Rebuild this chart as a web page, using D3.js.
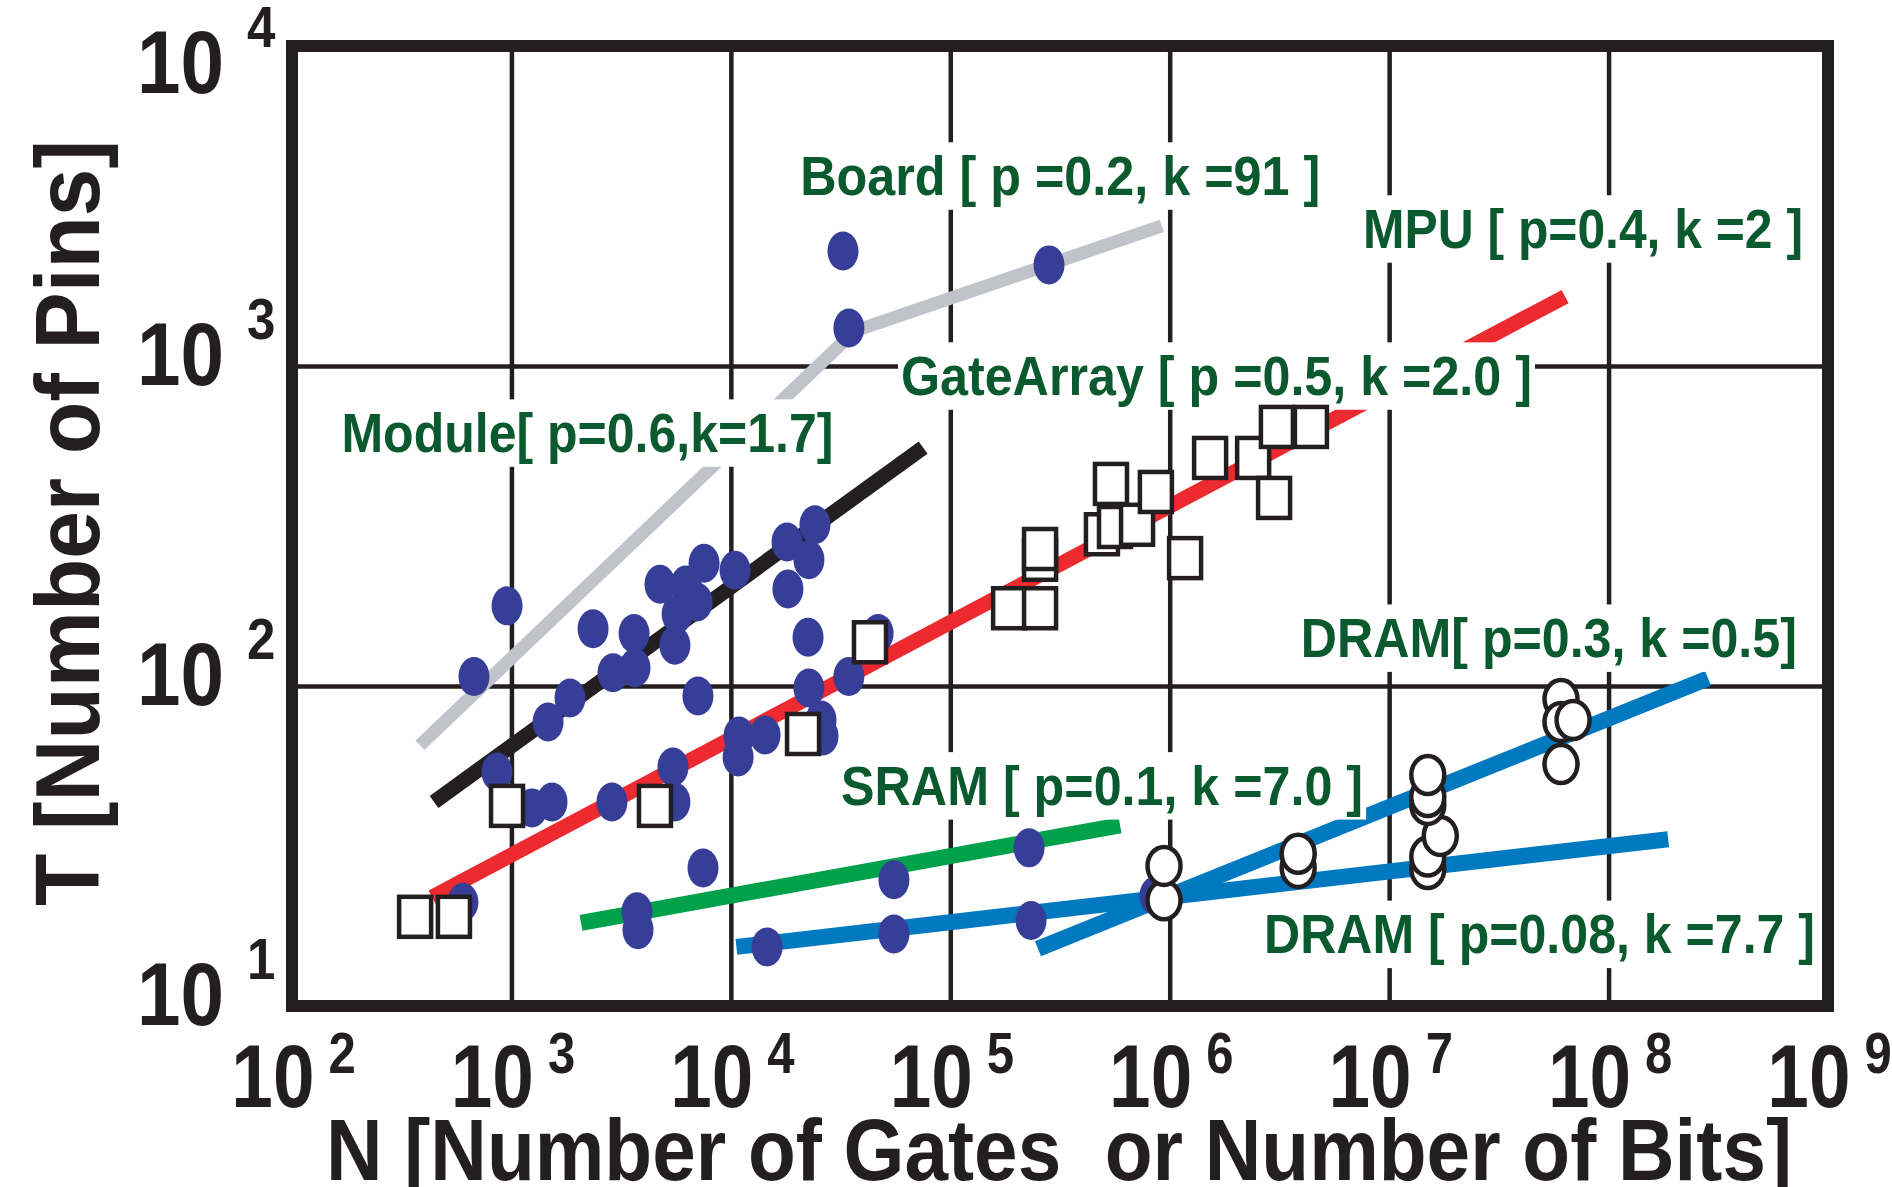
<!DOCTYPE html>
<html>
<head>
<meta charset="utf-8">
<script src="https://cdn.jsdelivr.net/npm/d3@7"></script>
<style>
body { margin: 0; background: #fff; }
svg { display: block; }
text { font-family: "Liberation Sans", Arial, sans-serif; font-weight: bold; }
</style>
</head>
<body>
<div id="viz"></div>
<script>
// Rent's rule plot: T (pins) against N (gates or bits), log-log.
// Values below.
var xExponents = [2, 3, 4, 5, 6, 7, 8, 9];
var yExponents = [1, 2, 3, 4];

// filled blue dots [N, T]
var blueDots = [
    [955,178],[675,107],[2355,151],[3622,146],[2904,110],[3656,114],[1849,91.7],[1469,77.2],
    [859,53.9],[1242,41.6],[1531,43.4],[2872,43.4],[5448,55.8],[5559,43.4],[4753,208],[7550,242],
    [10450,230],[6250,207],[7015,183],[5690,168],[5559,134],[7080,93.1],[18030,282],[24170,319],
    [22690,248],[18200,201],[22480,142],[22690,98.6],[34510,107],[46900,146],[10890,69.8],[14320,70.3],
    [10790,60.0],[25760,78.3],[26300,69.8],[7465,27.0],[601,21.1],[3733,19.7],[3774,17.3],[14620,15.3],
    [55350,24.8],[55350,16.8],[228600,31.2],[233400,18.5],[857000,22.1],[32430,2286],[34510,1314],[281800,2070]
];
// open squares (gate arrays / MPU)
var gateSquares = [
    [364,19.0],[547,19.0],[955,42.2],[4510,42.2],[21330,70.8],[43060,137],[185400,175],[256500,175],
    [256500,248],[256500,268],[491100,298],[563200,314],[709800,319],[539900,428],[865000,404],
    [1175000,251],[1528000,516],[2400000,516],[2990000,387],[3080000,645],[4400000,645]
];
// open circles (DRAM)
var dramCircles = [
    [942000,21.4],[942000,27.4],[3850000,27.0],[3850000,29.9],[1.50e7,26.8],[1.50e7,29.3],[1.71e7,34.0],
    [1.50e7,42.5],[1.50e7,45.0],[1.50e7,52.7],[6.07e7,91.0],[6.07e7,77.2],[6.89e7,78.3],[6.07e7,57.0]
];

// fitted lines [N, T]
var boardFit  = [[383,65.3],[36800,1288],[9.2e5,2740]];
var moduleFit = [[444,43.4],[75200,556]];
var mpuFit    = [[435,21.9],[6.34e7,1648]];
var sramFit   = [[2075,18.2],[5.94e5,36.7]];
var dramFitA  = [[1.06e4,15.3],[1.87e8,33.2]];
var dramFitB  = [[2.51e5,15.1],[2.84e8,105.7]];

var labelTexts = [
    "Board [ p =0.2, k =91 ]",
    "MPU [ p=0.4, k =2 ]",
    "GateArray [ p =0.5, k =2.0 ]",
    "Module[ p=0.6,k=1.7]",
    "SRAM [ p=0.1, k =7.0 ]",
    "DRAM[ p=0.3, k =0.5]",
    "DRAM [ p=0.08, k =7.7 ]"
];
// left end of each label's baseline, in data units
var labelAnchors = [[2.07e4,3420],[7.6e6,2337],[5.96e4,811],[168,538],[3.18e4,42.5],[3.96e6,123],[2.69e6,14.6]];
var labelWidths = [520, 440, 631, 492, 522, 496, 551];

var W = 1892, H = 1187;
var ink = "#231f20";

var x = d3.scaleLog().domain([1e2, 1e9]).range([292, 1828]);
var y = d3.scaleLog().domain([1e1, 1e4]).range([1006, 46]);

var svg = d3.select("#viz").append("svg")
    .attr("width", W)
    .attr("height", H);
svg.append("rect").attr("width", W).attr("height", H).attr("fill", "#fff");

// squeeze a text horizontally; if xEnd is given, put its right end there
function squeeze(sel, k, xEnd) {
    sel.attr("text-anchor", "start").each(function() {
        var w = this.getComputedTextLength() * k;
        var t = d3.select(this).attr("textLength", w).attr("lengthAdjust", "spacingAndGlyphs");
        if (xEnd !== undefined) t.attr("x", xEnd - w);
    });
}

// grid
var xg = svg.append("g")
    .attr("transform", "translate(0," + y.range()[0] + ")")
    .call(d3.axisBottom(x).tickValues(xExponents.slice(1, -1).map(function(e) { return Math.pow(10, e); }))
        .tickSize(-(y.range()[0] - y.range()[1])).tickFormat(""));
var yg = svg.append("g")
    .attr("transform", "translate(" + x.range()[0] + ",0)")
    .call(d3.axisLeft(y).tickValues(yExponents.slice(1, -1).map(function(e) { return Math.pow(10, e); }))
        .tickSize(-(x.range()[1] - x.range()[0])).tickFormat(""));
[xg, yg].forEach(function(g) {
    g.select(".domain").remove();
    g.selectAll("line").attr("stroke", ink).attr("stroke-width", 4.5);
});

// fitted lines
var line = d3.line().x(function(d) { return x(d[0]); }).y(function(d) { return y(d[1]); });
var fits = [
    [boardFit, "#c0c3c9", 13],
    [moduleFit, ink, 15],
    [mpuFit, "#ed2a2f", 15],
    [sramFit, "#00a14b", 16],
    [dramFitA, "#0079c1", 16],
    [dramFitB, "#0079c1", 16]
];
fits.forEach(function(f) {
    svg.append("path").datum(f[0])
        .attr("d", line)
        .attr("fill", "none")
        .attr("stroke", f[1])
        .attr("stroke-width", f[2])
        .attr("stroke-linejoin", "round");
});

// labels with white backing
var fs = 55;
var labels = svg.append("g");
labelTexts.forEach(function(t, i) {
    var lx = x(labelAnchors[i][0]), ly = y(labelAnchors[i][1]);
    labels.append("rect")
        .attr("x", lx - 3)
        .attr("y", ly - 0.905 * fs - 3)
        .attr("width", labelWidths[i] + 6)
        .attr("height", 1.117 * fs + 6)
        .attr("fill", "#fff");
    labels.append("text")
        .attr("x", lx)
        .attr("y", ly)
        .attr("font-size", fs)
        .attr("fill", "#0b5a2f")
        .attr("textLength", labelWidths[i])
        .attr("lengthAdjust", "spacingAndGlyphs")
        .text(t);
});

// points
svg.append("g").selectAll("ellipse").data(blueDots).join("ellipse")
    .attr("cx", function(d) { return x(d[0]); })
    .attr("cy", function(d) { return y(d[1]); })
    .attr("rx", 15.5).attr("ry", 19.5)
    .attr("fill", "#373e98");
svg.append("g").selectAll("rect").data(gateSquares).join("rect")
    .attr("x", function(d) { return x(d[0]) - 16; })
    .attr("y", function(d) { return y(d[1]) - 20; })
    .attr("width", 32).attr("height", 40)
    .attr("fill", "#fff").attr("stroke", ink).attr("stroke-width", 4.5);
svg.append("g").selectAll("ellipse").data(dramCircles).join("ellipse")
    .attr("cx", function(d) { return x(d[0]); })
    .attr("cy", function(d) { return y(d[1]); })
    .attr("rx", 16.5).attr("ry", 19)
    .attr("fill", "#fff").attr("stroke", ink).attr("stroke-width", 4.5);

// frame
svg.append("rect")
    .attr("x", x.range()[0]).attr("y", y.range()[1])
    .attr("width", x.range()[1] - x.range()[0])
    .attr("height", y.range()[0] - y.range()[1])
    .attr("fill", "none").attr("stroke", ink).attr("stroke-width", 12);

// tick labels: 10 with a raised exponent
var xt = svg.append("g")
    .attr("transform", "translate(0," + y.range()[0] + ")")
    .call(d3.axisBottom(x).tickValues(xExponents.map(function(e) { return Math.pow(10, e); }))
        .tickSize(0).tickFormat(""));
xt.select(".domain").remove();
xt.selectAll(".tick").each(function(d) {
    var g = d3.select(this);
    g.append("text").attr("y", 101)
        .attr("font-size", 89).attr("fill", ink).text("10").call(squeeze, 0.84, 22);
    g.append("text").attr("x", 36).attr("y", 67)
        .attr("font-size", 57).attr("fill", ink).text(Math.round(Math.log10(d))).call(squeeze, 0.86);
});

var yt = svg.append("g")
    .attr("transform", "translate(" + x.range()[0] + ",0)")
    .call(d3.axisLeft(y).tickValues(yExponents.map(function(e) { return Math.pow(10, e); }))
        .tickSize(0).tickFormat(""));
yt.select(".domain").remove();
yt.selectAll(".tick").each(function(d) {
    var g = d3.select(this);
    var base = Math.max(18, 92 - y(d));
    g.append("text").attr("y", base)
        .attr("font-size", 89).attr("fill", ink).text("10").call(squeeze, 0.88, -68);
    g.append("text").attr("x", -45).attr("y", base - 46)
        .attr("font-size", 58).attr("fill", ink).text(Math.round(Math.log10(d))).call(squeeze, 0.88);
});

// axis titles
svg.append("text")
    .attr("x", 1059).attr("y", 1180)
    .attr("text-anchor", "middle")
    .attr("font-size", 88).attr("fill", ink)
    .style("white-space", "pre")
    .attr("textLength", 1466).attr("lengthAdjust", "spacingAndGlyphs")
    .text("N [Number of Gates  or Number of Bits]");

svg.append("text")
    .attr("transform", "translate(99,523) rotate(-90)")
    .attr("text-anchor", "middle")
    .attr("font-size", 90).attr("fill", ink)
    .attr("textLength", 766).attr("lengthAdjust", "spacingAndGlyphs")
    .text("T [Number of Pins]");
</script>
</body>
</html>
